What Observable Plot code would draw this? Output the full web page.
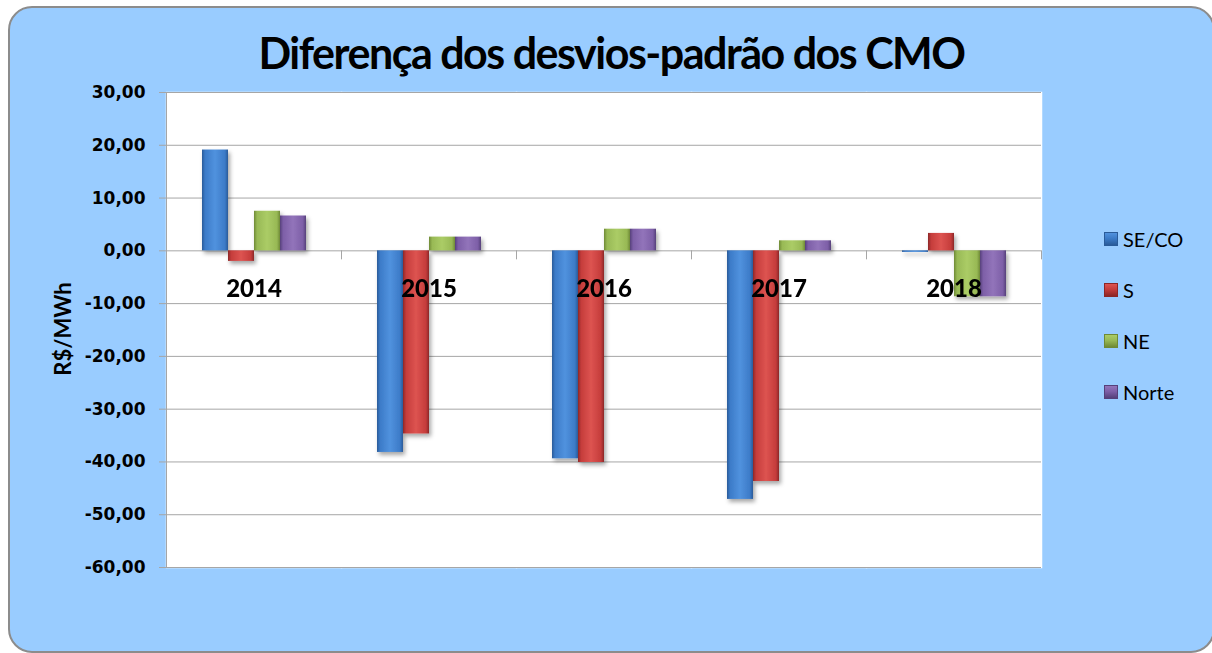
<!DOCTYPE html>
<html>
<head>
<meta charset="utf-8">
<script src="https://cdn.jsdelivr.net/npm/d3@7"></script>
<script src="https://cdn.jsdelivr.net/npm/@observablehq/plot@0.6"></script>
<style>
html, body { margin: 0; padding: 0; background: #ffffff; width: 1212px; height: 653px; overflow: hidden; }
#wrap { position: relative; width: 1212px; height: 653px; overflow: hidden; }
#bg { position: absolute; left: 8px; top: 6px; width: 1207px; height: 647px; box-sizing: border-box;
      background: #99ccff; border: 2px solid #8c8c8c; border-radius: 24px; }
#title { position: absolute; left: 0; top: 28px; width: 1223px; text-align: center;
         font-family: Lato, "Open Sans", sans-serif; font-weight: bold; font-size: 43px; line-height: 50px;
         letter-spacing: -1.5px; color: #000; white-space: nowrap; }
#chart { position: absolute; left: 0; top: 0; }
#ylabel { position: absolute; left: 62px; top: 329px; transform: translate(-50%, -50%) rotate(-90deg);
          font-family: Lato, sans-serif; font-weight: bold; font-size: 22px; white-space: nowrap; color: #000; }
#legend { position: absolute; left: 1104px; top: 213px; }
.item { display: flex; align-items: center; height: 51px; font-family: Lato, sans-serif; font-size: 20px; color: #000; }
.sw { width: 14px; height: 14px; margin-right: 5px; box-sizing: border-box; }
</style>
</head>
<body>
<div id="wrap">
  <div id="bg"></div>
  <div id="chart"></div>
  <div id="title">Diferença dos desvios-padrão dos CMO</div>
  <div id="ylabel">R$/MWh</div>
  <div id="legend"></div>
</div>
<script>
// ---- data (R$/MWh) ----
const years = ["2014", "2015", "2016", "2017", "2018"];
const series = ["SE/CO", "S", "NE", "Norte"];
const seco  = [19.1, -38.2, -39.4, -47.1, -0.3];
const sul   = [-2.0, -34.7, -40.1, -43.7, 3.3];
const ne    = [7.5, 2.6, 4.1, 1.9, -8.7];
const norte = [6.6, 2.6, 4.1, 1.9, -8.7];
const yTicks = [30, 20, 10, 0, -10, -20, -30, -40, -50, -60];

// ---- styles ----
const palette = {
  "SE/CO": {dark: "#2a5b99", base: "#3c7bc8", light: "#5192de"},
  "S":     {dark: "#8c2626", base: "#c53c3b", light: "#dd5451"},
  "NE":    {dark: "#6f8a35", base: "#98b955", light: "#abcc66"},
  "Norte": {dark: "#55407a", base: "#7d5fa7", light: "#9274ba"}
};

const values = [seco, sul, ne, norte];
const rows = years.flatMap((yr, i) => series.map((s, j) => ({year: yr, series: s, value: values[j][i]})));
const yearRows = years.map(yr => ({year: yr, base: 0}));

const W = 1212, H = 653;
const mL = 165, mT = 92, mR = 171, mB = 86;
const grey = "#a6a6a6";
const yScale = Plot.scale({y: {domain: [-60, 30], range: [H - mB, mT]}});
const y0 = yScale.apply(0);
const tickLen = 8;

const gradId = s => "grad-" + series.indexOf(s);

const chart = Plot.plot({
  width: W, height: H,
  marginLeft: mL, marginTop: mT, marginRight: mR, marginBottom: mB,
  style: {background: "transparent", overflow: "visible"},
  fx: {domain: years, padding: 0, axis: null},
  x: {domain: series, paddingInner: 0, paddingOuter: 1.245, axis: null},
  y: {domain: [-60, 30], axis: null},
  color: {type: "identity"},
  marks: [
    Plot.frame({fill: "white", stroke: "white", strokeWidth: 1.5}),
    Plot.gridY(yTicks, {stroke: grey, strokeOpacity: 1, strokeWidth: 1}),
    Plot.frame({anchor: "left", facetAnchor: "left", stroke: grey, strokeWidth: 1}),
    Plot.frame({anchor: "right", stroke: grey, strokeWidth: 1, insetTop: y0 - mT, insetBottom: (H - mB) - (y0 + tickLen)}),
    Plot.axisY(yTicks, {
      anchor: "left", tickSize: 7, tickPadding: 14, stroke: grey, fill: "black",
      tickFormat: d => d.toFixed(2).replace(".", ","), label: null,
      fontSize: 17, fontWeight: "bold", fontFamily: "DejaVu Sans, Verdana, sans-serif"
    }),
    Plot.barY(rows, {fx: "year", x: "series", y: "value", fill: d => `url(#${gradId(d.series)})`}),
    Plot.text(yearRows, {
      fx: "year", y: "base", text: "year", dy: 38,
      fontSize: 24, fontWeight: 900, fontFamily: "Lato, sans-serif", fill: "black"
    })
  ]
});

// gradients + shadow
const svg = d3.select(chart);
const defs = svg.insert("defs", ":first-child");
series.forEach((s, j) => {
  const p = palette[s];
  const g = defs.append("linearGradient").attr("id", "grad-" + j).attr("x1", 0).attr("x2", 1).attr("y1", 0).attr("y2", 0);
  [[0, p.dark], [0.12, p.base], [0.5, p.light], [0.88, p.base], [1, p.dark]].forEach(([o, c]) =>
    g.append("stop").attr("offset", o).attr("stop-color", c));
});
const f = defs.append("filter").attr("id", "shadow").attr("x", "-20%").attr("y", "-20%").attr("width", "150%").attr("height", "150%");
f.append("feDropShadow").attr("dx", 2).attr("dy", 3).attr("stdDeviation", 2).attr("flood-color", "#000").attr("flood-opacity", 0.35);
svg.selectAll('g[aria-label="bar"]').attr("filter", "url(#shadow)");

document.getElementById("chart").appendChild(chart);

// legend
const legend = d3.select("#legend");
series.forEach(s => {
  const p = palette[s];
  const it = legend.append("div").attr("class", "item");
  it.append("div").attr("class", "sw")
    .style("background", `linear-gradient(180deg, ${p.light} 0%, ${p.base} 45%, ${p.dark} 100%)`)
    .style("border", `1px solid ${p.dark}`);
  it.append("span").text(s);
});
</script>
</body>
</html>
